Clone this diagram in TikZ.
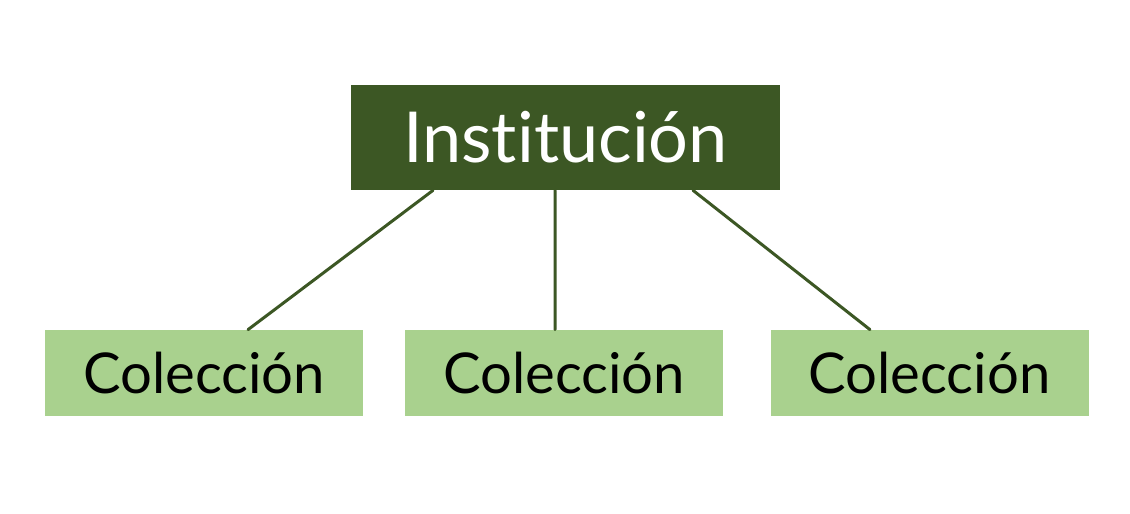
\documentclass[tikz,border=0pt]{standalone}
\usepackage{fontspec}
\setmainfont{Lato}[Ligatures={NoCommon}]
\usepackage{xcolor}
\definecolor{darkgreen}{HTML}{3C5724}
\definecolor{lightgreen}{HTML}{A9D18E}
\tikzset{
  every picture/.style={line join=round, line cap=round},
  topbox/.style={fill=darkgreen, text=white, minimum width=8.58cm, minimum height=2.1cm, inner sep=0pt, font=\fontsize{40}{46}\selectfont},
  leafbox/.style={fill=lightgreen, text=black, minimum width=6.36cm, minimum height=1.72cm, inner sep=0pt, font=\fontsize{32}{38}\selectfont},
  link/.style={draw=darkgreen, line width=1.7pt},
}

\begin{document}
\begin{tikzpicture}
\useasboundingbox[fill=white](0,0) rectangle (22.6,-10.28);
\node[topbox] (inst) at (11.31,-2.75) {Institución};
\node[leafbox] (colA) at (4.08,-7.46) {Colección};
\node[leafbox] (colB) at (11.28,-7.46) {Colección};
\node[leafbox] (colC) at (18.59,-7.46) {Colección};
\draw[link] ([xshift=-2.65cm]inst.south)--([xshift=0.88cm]colA.north);
\draw[link] ([xshift=-0.21cm]inst.south)--([xshift=-0.18cm]colB.north);
\draw[link] ([xshift=2.55cm]inst.south)--([xshift=-1.19cm]colC.north);
\end{tikzpicture}
\end{document}
